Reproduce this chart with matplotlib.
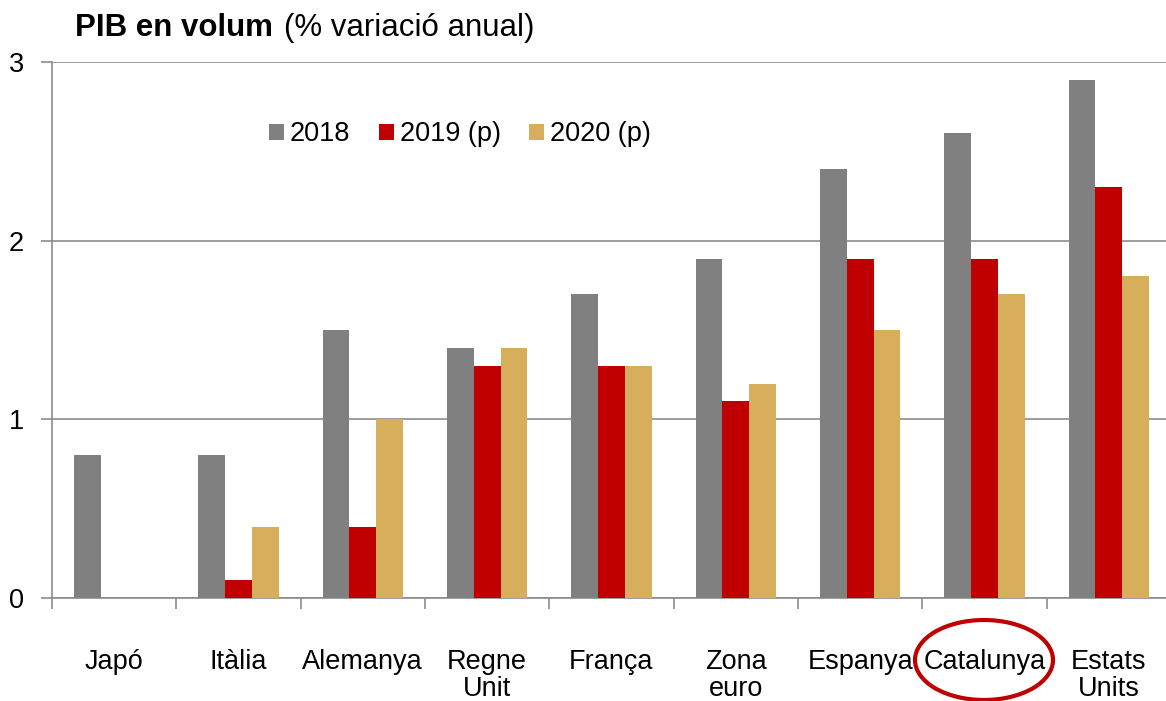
#!/usr/bin/env python3

import numpy as np
import matplotlib.pyplot as plt
from matplotlib.patches import Ellipse

plt.rcParams['font.family'] = ['Liberation Sans', 'DejaVu Sans']

countries = ['Japó', 'Itàlia', 'Alemanya', 'Regne\nUnit', 'França', 'Zona\neuro',
             'Espanya', 'Catalunya', 'Estats\nUnits']
gdp_2018 = [0.8, 0.8, 1.5, 1.4, 1.7, 1.9, 2.4, 2.6, 2.9]
gdp_2019 = [np.nan, 0.1, 0.4, 1.3, 1.3, 1.1, 1.9, 1.9, 2.3]
gdp_2020 = [np.nan, 0.4, 1.0, 1.4, 1.3, 1.2, 1.5, 1.7, 1.8]
series_labels = ['2018', '2019 (p)', '2020 (p)']
colors = ['#808080', '#C00000', '#D6AE5C']

fig = plt.figure(figsize=(11.66, 7.01), dpi=100)
ax = fig.add_axes([52 / 1166, 1 - 598 / 701, 1 - 52 / 1166, (598 - 62) / 701])

x = np.arange(len(countries))
w = 0.215
for i, (vals, lab, col) in enumerate(zip([gdp_2018, gdp_2019, gdp_2020], series_labels, colors)):
    ax.bar(x + (i - 1) * w, vals, w, color=col, label=lab, zorder=3)

ax.set_xlim(-0.5, 8.46)
ax.set_ylim(0, 3)
ax.set_yticks([0, 1, 2, 3])
ax.yaxis.grid(True, color='#8c8c8c', linewidth=1.2, zorder=0)

# category boundaries as major ticks, names on minor ticks
ax.set_xticks(np.arange(len(countries)) - 0.5)
ax.set_xticklabels([])
ax.set_xticks(x, minor=True)
ax.set_xticklabels(countries, minor=True, fontsize=19.5, va='top', linespacing=1.02)
ax.tick_params(axis='x', which='minor', length=0, pad=37)
ax.tick_params(axis='x', which='major', length=8, color='#8c8c8c', width=1.2)
ax.tick_params(axis='y', length=8, color='#8c8c8c', width=1.2, labelsize=19.5, pad=12)

for s in ['top', 'right']:
    ax.spines[s].set_visible(False)
for s in ['left', 'bottom']:
    ax.spines[s].set_color('#8c8c8c')
    ax.spines[s].set_linewidth(1.2)

leg = ax.legend(loc='center left', bbox_to_anchor=(0.195, 0.865), ncol=3, frameon=False,
                fontsize=19.5, handlelength=0.55, handleheight=0.55, handletextpad=0.22,
                columnspacing=1.05, borderaxespad=0, borderpad=0)

fig.text(75 / 1166, 1 - 28 / 701, 'PIB en volum', fontsize=22.5, fontweight='bold', va='center')
fig.text(284 / 1166, 1 - 28 / 701, '(% variació anual)', fontsize=22.5, va='center')

fig.patches.append(Ellipse((984 / 1166, 1 - 660 / 701), 138 / 1166, 80 / 701,
                           transform=fig.transFigure, fill=False, edgecolor='#C00000',
                           linewidth=3))

fig.savefig('out.png', dpi=100)
